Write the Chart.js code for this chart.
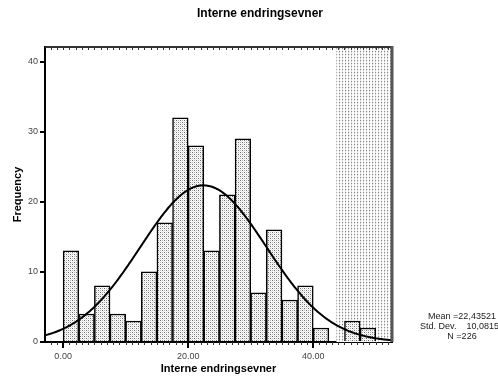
<!DOCTYPE html>
<html>
<head>
<meta charset="utf-8">
<script src="https://cdn.jsdelivr.net/npm/chart.js@4.4.1/dist/chart.umd.min.js"></script>
<style>
  html, body { margin: 0; padding: 0; background: #fff; }
</style>
</head>
<body>
<canvas id="histChart" width="498" height="385"></canvas>
<script>
// Histogram bins (lower edge of each bin) and their counts
const binLower = [0, 2.5, 5, 7.5, 10, 12.5, 15, 17.5, 20, 22.5, 25, 27.5, 30, 32.5, 35, 37.5, 40, 42.5, 45, 47.5];
const binWidth = 2.5;
const counts = [13, 4, 8, 4, 3, 10, 17, 32, 28, 13, 21, 29, 7, 16, 6, 8, 2, 0, 3, 2];

// Summary statistics shown beside the plot
const statMean = 22.43521;
const statStdDev = 10.08159;
const statN = 226;

// Axis ranges
const xRange = [-2.9, 52.6];
const yRange = [0, 42.1];
const hatchStart = 43.7;

const FONT = "'Liberation Sans', Arial, Helvetica, sans-serif";

function makePattern(size, dots) {
  const c = document.createElement('canvas');
  c.width = size; c.height = size;
  const g = c.getContext('2d');
  g.fillStyle = '#fff';
  g.fillRect(0, 0, size, size);
  dots.forEach(([x, y, col]) => { g.fillStyle = col; g.fillRect(x, y, 1, 1); });
  return g.createPattern(c, 'repeat');
}

// stippled fills for the bars and the shaded band on the right
const barFill = makePattern(4, [
  [0, 0, '#6a6a6a'], [2, 2, '#6a6a6a'], [2, 0, '#b4b4b4'], [0, 2, '#b4b4b4'],
  [1, 1, '#e6e6e6'], [3, 3, '#e6e6e6'], [3, 1, '#ececec'], [1, 3, '#ececec']
]);
const hatchFill = makePattern(3, [[0, 0, '#8a8a8a'], [0, 1, '#d6d6d6'], [0, 2, '#e6e6e6'], [1, 0, '#ececec']]);

const barData = binLower.map((lo, i) => ({ x: lo + binWidth / 2, y: counts[i] }));

// Normal curve scaled to the histogram (N * bin width * density)
const curveData = [];
for (let x = xRange[0]; x <= xRange[1] + 1e-9; x += 0.2) {
  const z = (x - statMean) / statStdDev;
  const y = statN * binWidth / (statStdDev * Math.sqrt(2 * Math.PI)) * Math.exp(-0.5 * z * z);
  curveData.push({ x: x, y: y });
}

const fmt = v => v.toFixed(5).replace('.', ',');
const statLines = [
  'Mean =' + fmt(statMean),
  'Std. Dev.    ' + fmt(statStdDev),
  'N =' + statN
];

const framePlugin = {
  id: 'frame',
  beforeDatasetsDraw(chart) {
    const { ctx, chartArea, scales } = chart;
    const x0 = scales.x.getPixelForValue(hatchStart);
    ctx.save();
    ctx.fillStyle = hatchFill;
    ctx.fillRect(x0, chartArea.top, chartArea.right - x0, chartArea.bottom - chartArea.top);
    ctx.restore();
  },
  afterDraw(chart) {
    const { ctx, chartArea, scales } = chart;
    const xs = scales.x;
    ctx.save();
    // minor ticks along bottom and top edges
    ctx.strokeStyle = '#333';
    ctx.lineWidth = 1;
    for (let v = Math.ceil(xRange[0]); v <= xRange[1]; v++) {
      const px = Math.round(xs.getPixelForValue(v)) + 0.5;
      ctx.beginPath();
      ctx.moveTo(px, chartArea.top);
      ctx.lineTo(px, chartArea.top + 3);
      if (v % 20 !== 0) {
        ctx.moveTo(px, chartArea.bottom);
        ctx.lineTo(px, chartArea.bottom + 3);
      }
      ctx.stroke();
    }
    // top and right frame
    ctx.strokeStyle = '#333';
    ctx.lineWidth = 2;
    ctx.beginPath();
    ctx.moveTo(chartArea.left, chartArea.top);
    ctx.lineTo(chartArea.right, chartArea.top);
    ctx.stroke();
    ctx.strokeStyle = '#555';
    ctx.lineWidth = 3;
    ctx.beginPath();
    ctx.moveTo(chartArea.right, chartArea.top - 1);
    ctx.lineTo(chartArea.right, chartArea.bottom);
    ctx.stroke();

    // chart title
    ctx.fillStyle = '#000';
    ctx.font = 'bold 12px ' + FONT;
    ctx.textAlign = 'center';
    ctx.textBaseline = 'middle';
    ctx.fillText('Interne endringsevner', 260, 14);

    // statistics block
    ctx.fillStyle = '#222';
    ctx.font = '9px ' + FONT;
    statLines.forEach((t, i) => ctx.fillText(t, 462, 317 + i * 10));
    ctx.restore();
  }
};

new Chart(document.getElementById('histChart'), {
  type: 'bar',
  data: {
    datasets: [
      {
        type: 'line',
        data: curveData,
        borderColor: '#000',
        borderWidth: 2,
        pointRadius: 0,
        tension: 0,
        fill: false,
        order: 0
      },
      {
        type: 'bar',
        data: barData,
        backgroundColor: barFill,
        borderColor: '#000',
        borderWidth: 1.5,
        barPercentage: 1,
        categoryPercentage: 1,
        order: 1
      }
    ]
  },
  options: {
    responsive: false,
    animation: false,
    devicePixelRatio: 1,
    layout: { padding: { top: 47, right: 106, left: 0, bottom: 0 } },
    plugins: { legend: { display: false }, tooltip: { enabled: false }, title: { display: false } },
    scales: {
      x: {
        type: 'linear',
        min: xRange[0],
        max: xRange[1],
        offset: false,
        afterFit(scale) { scale.height = 43; },
        border: { color: '#000', width: 2 },
        grid: { offset: false, drawOnChartArea: false, drawTicks: true, tickLength: 6, color: '#000', lineWidth: 2 },
        ticks: {
          stepSize: 20,
          includeBounds: false,
          autoSkip: false,
          maxRotation: 0,
          padding: 3,
          color: '#444',
          font: { family: FONT, size: 9 },
          callback: v => v.toFixed(2)
        },
        title: {
          display: true,
          text: 'Interne endringsevner',
          color: '#000',
          font: { family: FONT, size: 11, weight: 'bold' },
          padding: { top: 0, bottom: 9 }
        }
      },
      y: {
        min: yRange[0],
        max: yRange[1],
        afterFit(scale) { scale.width = 45; },
        border: { color: '#000', width: 2 },
        grid: { drawOnChartArea: false, drawTicks: true, tickLength: 5, color: '#000', lineWidth: 2 },
        ticks: {
          stepSize: 10,
          includeBounds: false,
          padding: 2,
          color: '#444',
          font: { family: FONT, size: 9 }
        },
        title: {
          display: true,
          text: 'Frequency',
          color: '#000',
          font: { family: FONT, size: 11, weight: 'bold' },
          padding: { top: 11, bottom: 0 }
        }
      }
    }
  },
  plugins: [framePlugin]
});
</script>
</body>
</html>
